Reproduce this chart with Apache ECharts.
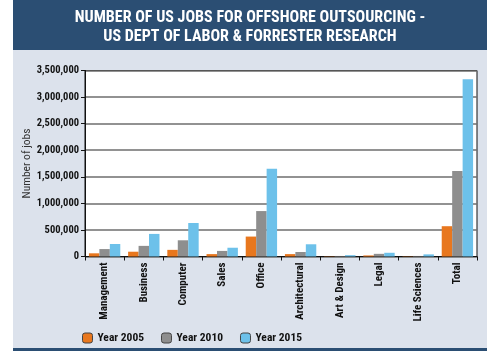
<!DOCTYPE html>
<html><head><meta charset="utf-8">
<script src="https://cdn.jsdelivr.net/npm/echarts@6/dist/echarts.min.js"></script>
<style>html,body{margin:0;padding:0;background:#fff}#c{width:500px;height:362px}</style>
</head><body><div id="c"></div>
<script>
var categories = ['Management','Business','Computer','Sales','Office','Architectural','Art & Design','Legal','Life Sciences','Total'];
var year2005 = [60000, 90000, 125000, 45000, 375000, 45000, 5000, 20000, 5000, 570000];
var year2010 = [140000, 200000, 305000, 105000, 855000, 85000, 10000, 50000, 10000, 1610000];
var year2015 = [235000, 425000, 630000, 165000, 1650000, 230000, 25000, 70000, 40000, 3335000];
var seriesNames = ['Year 2005','Year 2010','Year 2015'];
var yTicks = [0, 500000, 1000000, 1500000, 2000000, 2500000, 3000000, 3500000];
var yAxisName = 'Number of jobs';

var FONT = '"Roboto Condensed","DejaVu Sans Condensed",sans-serif';
var chart = echarts.init(document.getElementById('c'));
function fmt(v){ return v.toString().replace(/\B(?=(\d{3})+(?!\d))/g, ','); }
chart.setOption({
  animation: false,
  backgroundColor: '#ffffff',
  graphic: [
    {type:'rect', shape:{x:13,y:0,width:474,height:50}, style:{fill:'#2b4e73'}, z:-10},
    {type:'rect', shape:{x:13,y:50,width:474,height:298}, style:{fill:'#dce2ec'}, z:-10},
    {type:'rect', shape:{x:13,y:348,width:474,height:3}, style:{fill:'#2b4e73'}, z:-10},
    {type:'text', left:'center', top:8, style:{text:'NUMBER OF US JOBS FOR OFFSHORE OUTSOURCING -\nUS DEPT OF LABOR & FORRESTER RESEARCH', fill:'#ffffff', font:'bold 16px ' + FONT, textAlign:'center', lineHeight:19}},
    {type:'text', x:27, y:163.5, rotation:Math.PI/2, style:{text:yAxisName, fill:'#333', font:'11.5px ' + FONT, textAlign:'center', textVerticalAlign:'middle'}}
  ],
  color: ['#e8771e','#8e8e8e','#6dc1ea'],
  grid: {left:85, right:23, top:70.5, bottom:105.5, show:true, backgroundColor:'#ffffff', borderColor:'#111', borderWidth:1},
  legend: {
    data: seriesNames, left:77, top:327, itemWidth:10, itemHeight:10, itemGap:17,
    textStyle:{fontFamily:FONT, fontWeight:'bold', fontSize:11.5, color:'#111'},
    itemStyle:{borderColor:'#444', borderWidth:1}
  },
  xAxis: {
    type:'category', data:categories,
    axisLine:{lineStyle:{color:'#111', width:1}},
    axisTick:{show:true, length:4, lineStyle:{color:'#111'}},
    axisLabel:{rotate:90, interval:0, fontFamily:FONT, fontWeight:'bold', fontSize:11, color:'#111', margin:6}
  },
  yAxis: {
    type:'value', min:0, max:3500000, interval:500000,
    axisLine:{show:true, lineStyle:{color:'#111'}},
    axisTick:{show:true, length:4, lineStyle:{color:'#111'}},
    splitLine:{lineStyle:{color:'#6e6e6e', width:1.5}},
    axisLabel:{fontFamily:FONT, fontWeight:'bold', fontSize:10.5, color:'#111', margin:6,
      formatter:function(v){ return yTicks.indexOf(v) >= 0 ? fmt(v) : ''; }}
  },
  series: [
    {name:seriesNames[0], type:'bar', data:year2005, barGap:'0%', barCategoryGap:'20%'},
    {name:seriesNames[1], type:'bar', data:year2010, barGap:'0%', barCategoryGap:'20%'},
    {name:seriesNames[2], type:'bar', data:year2015, barGap:'0%', barCategoryGap:'20%'}
  ]
});
</script></body></html>
